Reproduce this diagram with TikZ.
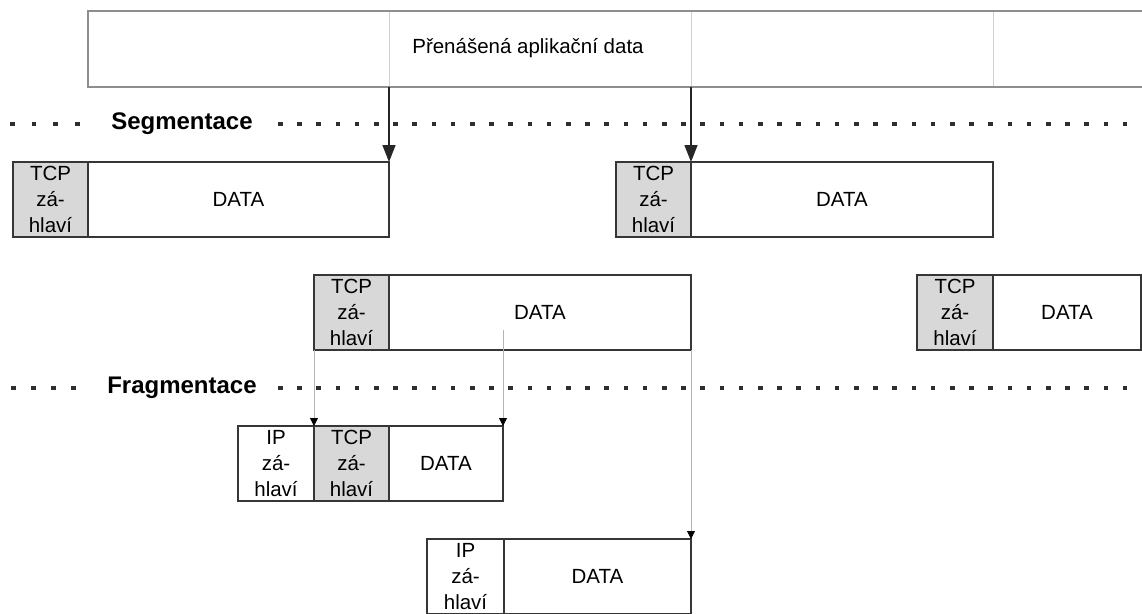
\documentclass[tikz,border=0pt]{standalone}
\usepackage{fontspec}
\setmainfont{Liberation Sans}
\usetikzlibrary{positioning,arrows.meta}
\definecolor{boxline}{HTML}{363636}
\definecolor{hdrgray}{HTML}{D8D8D8}
\definecolor{appline}{HTML}{8E8E8E}
\definecolor{appdiv}{HTML}{D0D0D0}
\definecolor{cutgray}{HTML}{B4B4B4}
\definecolor{dotgray}{HTML}{2E2E2E}
\begin{document}
\begin{tikzpicture}[x=1pt,y=-1pt,font=\fontsize{20.5}{26}\selectfont]
        \tikzstyle{every node}=[inner sep=0pt, outer sep=0pt, minimum height=75pt, align=center]
        \tikzstyle{hdr}=[draw=boxline, line width=1.8pt, fill=hdrgray, minimum width=75pt]
        \tikzstyle{ipbox}=[draw=boxline, line width=1.8pt, fill=white, minimum width=76pt]
        \tikzstyle{dat}=[draw=boxline, line width=1.8pt, fill=white]
        \tikzstyle{app}=[draw=appdiv, line width=0.9pt, minimum height=76pt]
        \tikzstyle{thin}=[draw=cutgray, line width=0.8pt, -{Triangle[length=8pt,width=8pt,color=black]}]
        \tikzstyle{cut}=[draw=black!85, line width=1.5pt, -{Triangle[length=17pt,width=13pt]}]
        \tikzstyle{dots}=[draw=dotgray, line width=4.6pt]
        \tikzstyle{layer}=[font=\fontsize{24}{26}\selectfont\bfseries, minimum height=0pt]
        \useasboundingbox (0,0) rectangle (1142,613);
        % application data
        \node[app, anchor=north west, minimum width=301pt] (app1) at (88,11) {};
        \node[app, right=0pt of app1, minimum width=302pt] (app2) {};
        \node[app, right=0pt of app2, minimum width=302pt] (app3) {};
        \node[app, right=0pt of app3, minimum width=170pt] (app4) {};
        \draw[appline, line width=1.4pt] (app1.north west) rectangle (app4.south east);
        \node[minimum height=0pt] (apptxt) at (528,48) {Přenášená aplikační data};
        % segmentation
        \node[layer] (segtxt) at (182,124) {Segmentace};
        \draw[dots, dash pattern=on 4.6pt off 17.1pt] (10,124) -- (80,124);
        \draw[dots, dash pattern=on 4.6pt off 14.6pt] (278,124) -- (1150,124);
        \node[hdr, anchor=north west] (seg1h) at (13,162) {TCP\\zá-\\hlaví};
        \node[dat, right=0pt of seg1h, minimum width=301pt] (seg1d) {DATA};
        \node[hdr, anchor=north west] (seg2h) at (616,162) {TCP\\zá-\\hlaví};
        \node[dat, right=0pt of seg2h, minimum width=302pt] (seg2d) {DATA};
        \node[hdr, anchor=north west] (seg3h) at (314,275) {TCP\\zá-\\hlaví};
        \node[dat, right=0pt of seg3h, minimum width=302pt] (seg3d) {DATA};
        \node[hdr, anchor=north west, minimum width=76pt] (seg4h) at (917,275) {TCP\\zá-\\hlaví};
        \node[dat, right=0pt of seg4h, minimum width=148pt] (seg4d) {DATA};
        \draw[cut] (app1.south east) -- (seg1d.north east);
        \draw[cut] (app2.south east) -- (seg2d.north west);
        % fragmentation
        \node[layer] (fragtxt) at (182,388) {Fragmentace};
        \draw[dots, dash pattern=on 4.6pt off 15.4pt] (11,388) -- (78,388);
        \draw[dots, dash pattern=on 4.6pt off 14.6pt] (278,388) -- (1150,388);
        \node[ipbox, anchor=north west] (frag1i) at (238,426) {IP\\zá-\\hlaví};
        \node[hdr, right=0pt of frag1i] (frag1t) {TCP\\zá-\\hlaví};
        \node[dat, right=0pt of frag1t, minimum width=114pt] (frag1d) {DATA};
        \node[ipbox, anchor=north west, minimum width=77pt] (frag2i) at (427,539) {IP\\zá-\\hlaví};
        \node[dat, right=0pt of frag2i, minimum width=187pt] (frag2d) {DATA};
        \coordinate (cut3) at (503,330);
        \draw[thin] (seg3h.south west) -- (frag1t.north west);
        \draw[thin] (cut3) -- (frag1d.north east);
        \draw[thin] (seg3d.south east) -- (frag2d.north east);
\end{tikzpicture}
\end{document}
